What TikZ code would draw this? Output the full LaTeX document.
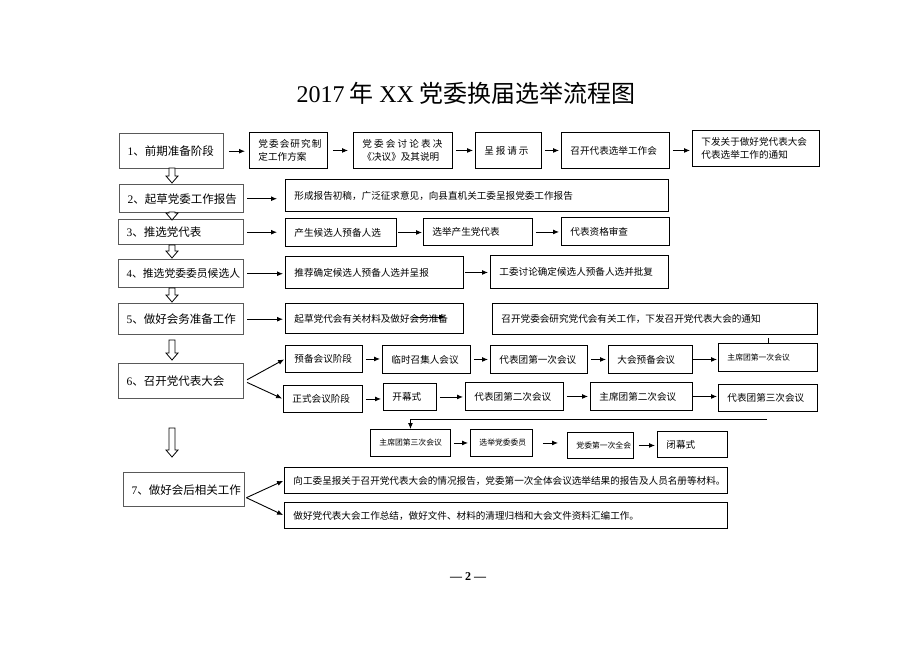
\documentclass[tikz,border=0pt]{standalone}
\usepackage{fontspec}
\setmainfont{Noto Sans CJK SC}
\newfontfamily\lat{Liberation Serif}
\usetikzlibrary{arrows.meta,calc}
\tikzset{
 box/.style={draw=black, line width=0.9pt, inner xsep=9pt, inner ysep=1pt, align=left, font=\fontsize{9.6}{13.5}\selectfont},
 big/.style={draw=black!65, line width=1.4pt, inner xsep=8pt, inner ysep=1pt, align=left, font=\fontsize{11.5}{14}\selectfont},
 tiny/.style={font=\fontsize{7.8}{10}\selectfont},
 arr/.style={draw=black, line width=0.9pt, -{Latex[length=6pt,width=5pt]}, shorten <=3pt, shorten >=2pt},
 pics/hdown/.style={code={\draw[line width=0.8pt, fill=white] (-3,0) -- (-3,#1-7) -- (-6,#1-7) -- (0,#1) -- (6,#1-7) -- (3,#1-7) -- (3,0) -- cycle;}}
}
\newcommand\bx[7][]{%
 \pgfmathsetmacro\bw{#5-#3}\pgfmathsetmacro\bh{#6-#4}\pgfmathsetmacro\tw{#5-#3-18}%
 \node[box,#1,minimum width=\bw pt,minimum height=\bh pt,text width=\tw pt,anchor=north west] (#2) at (#3,#4) {#7};}
\newcommand\bg[7][]{%
 \pgfmathsetmacro\bw{#5-#3}\pgfmathsetmacro\bh{#6-#4}\pgfmathsetmacro\tw{#5-#3-16}%
 \node[big,#1,minimum width=\bw pt,minimum height=\bh pt,text width=\tw pt,anchor=north west] (#2) at (#3,#4) {#7};}
\begin{document}
\begin{tikzpicture}[x=1pt,y=-1pt]
\fill[white] (0,0) rectangle (920,651);
\useasboundingbox (0,0) rectangle (920,651);
% title
\node (title) at (466,93) {\fontsize{24}{28}\selectfont{\lat 2017} 年 {\lat XX} 党委换届选举流程图};
% left column
\bg{s1}{119}{133}{223}{168}{{\lat 1}、前期准备阶段}
\bg{s2}{119}{184}{243}{212}{{\lat 2}、起草党委工作报告}
\bg{s3}{118}{219}{243}{244}{{\lat 3}、推选党代表}
\bg[font=\fontsize{10.8}{13}\selectfont]{s4}{118}{259}{243}{287}{{\lat 4}、推选党委委员候选人}
\bg{s5}{118}{303}{243}{334}{{\lat 5}、做好会务准备工作}
\bg{s6}{118}{363}{243}{398}{{\lat 6}、召开党代表大会}
\bg{s7}{123}{472}{244}{506}{{\lat 7}、做好会后相关工作}
% row 1
\bx[inner xsep=8pt]{a1}{249}{132}{327}{168}{\makebox[63pt][l]{党\hfill 委\hfill 会\hfill 研\hfill 究\hfill 制}\\定工作方案}
\bx[inner xsep=9pt]{a2}{353}{132}{452}{168}{\makebox[80pt][l]{党\hfill 委\hfill 会\hfill 讨\hfill 论\hfill 表\hfill 决}\\《决议》及其说明}
\bx{a3}{475}{132}{541}{168}{\makebox[44pt][l]{呈\hfill 报\hfill 请\hfill 示}}
\bx{a4}{561}{132}{669}{168}{召开代表选举工作会}
\bx{a5}{692}{130}{819}{166}{下发关于做好党代表大会\\代表选举工作的通知}
% row 2
\bx{b1}{285}{179}{668}{211}{形成报告初稿，广泛征求意见，向县直机关工委呈报党委工作报告}
% row 3
\bx{c1}{285}{218}{396}{246}{产生候选人预备人选}
\bx{c2}{423}{218}{532}{245}{选举产生党代表}
\bx{c3}{561}{217}{669}{245}{代表资格审查}
% row 4
\bx{d1}{285}{256}{463}{288}{推荐确定候选人预备人选并呈报}
\bx{d2}{490}{255}{668}{288}{工委讨论确定候选人预备人选并批复}
% row 5
\bx{e1}{285}{303}{463}{333}{起草党代会有关材料及做好会务准备}
\bx{e2}{492}{303}{817}{334}{召开党委会研究党代会有关工作，下发召开党代表大会的通知}
% row 6 upper
\bx{f1}{285}{345}{362}{372}{预备会议阶段}
\bx[inner xsep=8pt]{f2}{382}{345}{470}{373}{临时召集人会议}
\bx{f3}{490}{345}{587}{373}{代表团第一次会议}
\bx{f4}{608}{345}{692}{373}{大会预备会议}
\bx[tiny]{f5}{718}{343}{817}{371}{主席团第一次会议}
% row 6 lower
\bx{g1}{283}{385}{362}{412}{正式会议阶段}
\bx[inner xsep=7pt]{g2}{383}{383}{436}{410}{\makebox[28pt][l]{开\hfill 幕\hfill 式}}
\bx{g3}{465}{382}{563}{410}{代表团第二次会议}
\bx{g4}{590}{382}{692}{410}{主席团第二次会议}
\bx{g5}{718}{384}{817}{411}{代表团第三次会议}
% row 6 third
\bx[tiny]{h1}{370}{429}{450}{456}{主席团第三次会议}
\bx[tiny]{h2}{470}{429}{532}{456}{选举党委委员}
\bx[tiny]{h3}{567}{432}{633}{458}{党委第一次全会}
\bx{h4}{657}{431}{727}{457}{\makebox[28pt][l]{闭\hfill 幕\hfill 式}}
% row 7
\bx{k1}{284}{467}{727}{493}{向工委呈报关于召开党代表大会的情况报告，党委第一次全体会议选举结果的报告及人员名册等材料。}
\bx{k2}{284}{502}{727}{528}{做好党代表大会工作总结，做好文件、材料的清理归档和大会文件资料汇编工作。}
% footer
\node (pg) at (468,577) {\lat\bfseries\fontsize{12}{14}\selectfont — 2 —};
% hollow down arrows
\pic at (172,168) {hdown=15};
\pic at (172,212) {hdown=8};
\pic at (172,245) {hdown=13};
\pic at (172,288) {hdown=14};
\pic at (172,340) {hdown=20};
\pic at (172,428) {hdown=29};
% row 1 connectors
\draw[arr, shorten <=5pt, shorten >=4pt] (s1.east) -- (s1.east -| a1.west);
\draw[arr, shorten <=5pt, shorten >=5pt] (a1.east) -- (a1.east -| a2.west);
\draw[arr] (a2.east) -- (a2.east -| a3.west);
\draw[arr] (a3.east) -- (a3.east -| a4.west);
\draw[arr] (a4.east) -- (a4.east -| a5.west);
% rows 2-5
\draw[arr, shorten >=8pt] (s2.east) -- (s2.east -| b1.west);
\draw[arr, shorten >=8pt] (s3.east) -- (s3.east -| c1.west);
\draw[arr, shorten <=1pt, shorten >=1pt] (c1.east) -- (c1.east -| c2.west);
\draw[arr] (c2.east) -- (c2.east -| c3.west);
\draw[arr] (s4.east) -- (s4.east -| d1.west);
\draw[arr, shorten <=1pt] (d1.east) -- (d1.east -| d2.west);
\draw[arr] (s5.east) -- (s5.east -| e1.west);
\coordinate (st1) at (413,317);
\coordinate (st2) at (445,317);
\draw[arr, shorten <=0pt, shorten >=0pt] (st1) -- (st2);
% row 6
\draw[arr, shorten >=1pt] (s6.east) -- (f1.west);
\draw[arr, shorten >=1pt] (s6.east) -- (g1.west);
\draw[arr] (f1.east) -- (f1.east -| f2.west);
\draw[arr] (f2.east) -- (f2.east -| f3.west);
\draw[arr] (f3.east) -- (f3.east -| f4.west);
\draw[arr, shorten <=0pt, shorten >=1pt] (f4.east) -- (f4.east -| f5.west);
\draw[arr] (g1.east) -- (g1.east -| g2.west);
\draw[arr] (g2.east) -- (g2.east -| g3.west);
\draw[arr] (g3.east) -- (g3.east -| g4.west);
\draw[arr, shorten <=0pt, shorten >=1pt] (g4.east) -- (g4.east -| g5.west);
\draw[line width=0.8pt] (f5.north) -- ++(0,-5);
\coordinate (rt) at (767,419);
\draw[arr, shorten <=0pt, shorten >=0pt] (rt) -| (h1.north);
\draw[arr] (h1.east) -- (h1.east -| h2.west);
\draw[arr, shorten <=10pt, shorten >=9pt] (h2.east) -- (h2.east -| h3.west);
\draw[arr, shorten <=5pt] (h3.east) -- (h3.east -| h4.west);
% row 7
\coordinate (s7o) at ($(s7.east)+(1,8)$);
\draw[arr, shorten <=0pt, shorten >=1pt] (s7o) -- (k1.west);
\draw[arr, shorten <=0pt, shorten >=1pt] (s7o) -- (k2.west);
\end{tikzpicture}
\end{document}
